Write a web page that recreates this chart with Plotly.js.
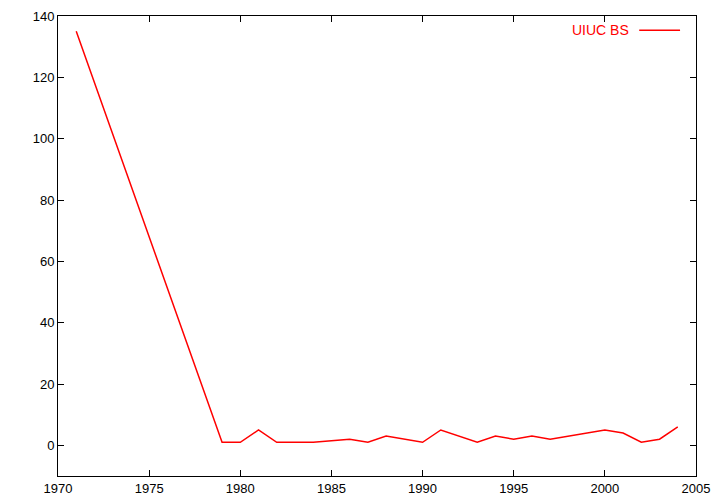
<!DOCTYPE html>
<html>
<head>
<meta charset="utf-8">
<script src="https://cdn.plot.ly/plotly-3.0.1.min.js"></script>
<style>
html,body{margin:0;padding:0;background:#fff;}
#chart{width:720px;height:504px;}
</style>
</head>
<body>
<div id="chart"></div>
<script>
const years = [1971, 1979, 1980, 1981, 1982, 1983, 1984, 1986, 1987, 1988, 1990, 1991, 1993, 1994, 1995, 1996, 1997, 2000, 2001, 2002, 2003, 2004];
const uiucBS = [135, 1, 1, 5, 1, 1, 1, 2, 1, 3, 1, 5, 1, 3, 2, 3, 2, 5, 4, 1, 2, 6];
const seriesName = "UIUC BS";
const xTicks = [1970, 1975, 1980, 1985, 1990, 1995, 2000, 2005];
const yTicks = [0, 20, 40, 60, 80, 100, 120, 140];

const trace = {
  x: years, y: uiucBS, type: 'scatter', mode: 'lines',
  line: {color: '#ff0000', width: 1.5}, name: seriesName, showlegend: false
};

const axisCommon = {
  showgrid: false, zeroline: false, showline: true, linecolor: '#000', linewidth: 1,
  mirror: 'allticks', ticks: 'inside', ticklen: 6, tickcolor: '#000', tickwidth: 1,
  tickfont: {family: 'Liberation Sans, Arial, sans-serif', size: 13, color: '#000'}
};

const layout = {
  width: 720, height: 504,
  margin: {l: 58, r: 24, t: 16, b: 28},
  paper_bgcolor: '#fff', plot_bgcolor: '#fff',
  xaxis: Object.assign({}, axisCommon, {range: [1970, 2005], tickvals: xTicks}),
  yaxis: Object.assign({}, axisCommon, {range: [-10, 140], tickvals: yTicks}),
  annotations: [{
    xref: 'paper', yref: 'paper', x: 0.898, y: 0.970, xanchor: 'right', yanchor: 'middle',
    text: seriesName, showarrow: false,
    font: {family: 'Liberation Sans, Arial, sans-serif', size: 14, color: '#ff0000'}
  }],
  shapes: [{
    type: 'line', xref: 'paper', yref: 'paper', x0: 0.911, x1: 0.975, y0: 0.969, y1: 0.969,
    line: {color: '#ff0000', width: 1.5}
  }]
};

Plotly.newPlot('chart', [trace], layout, {staticPlot: true, displayModeBar: false});
</script>
</body>
</html>
